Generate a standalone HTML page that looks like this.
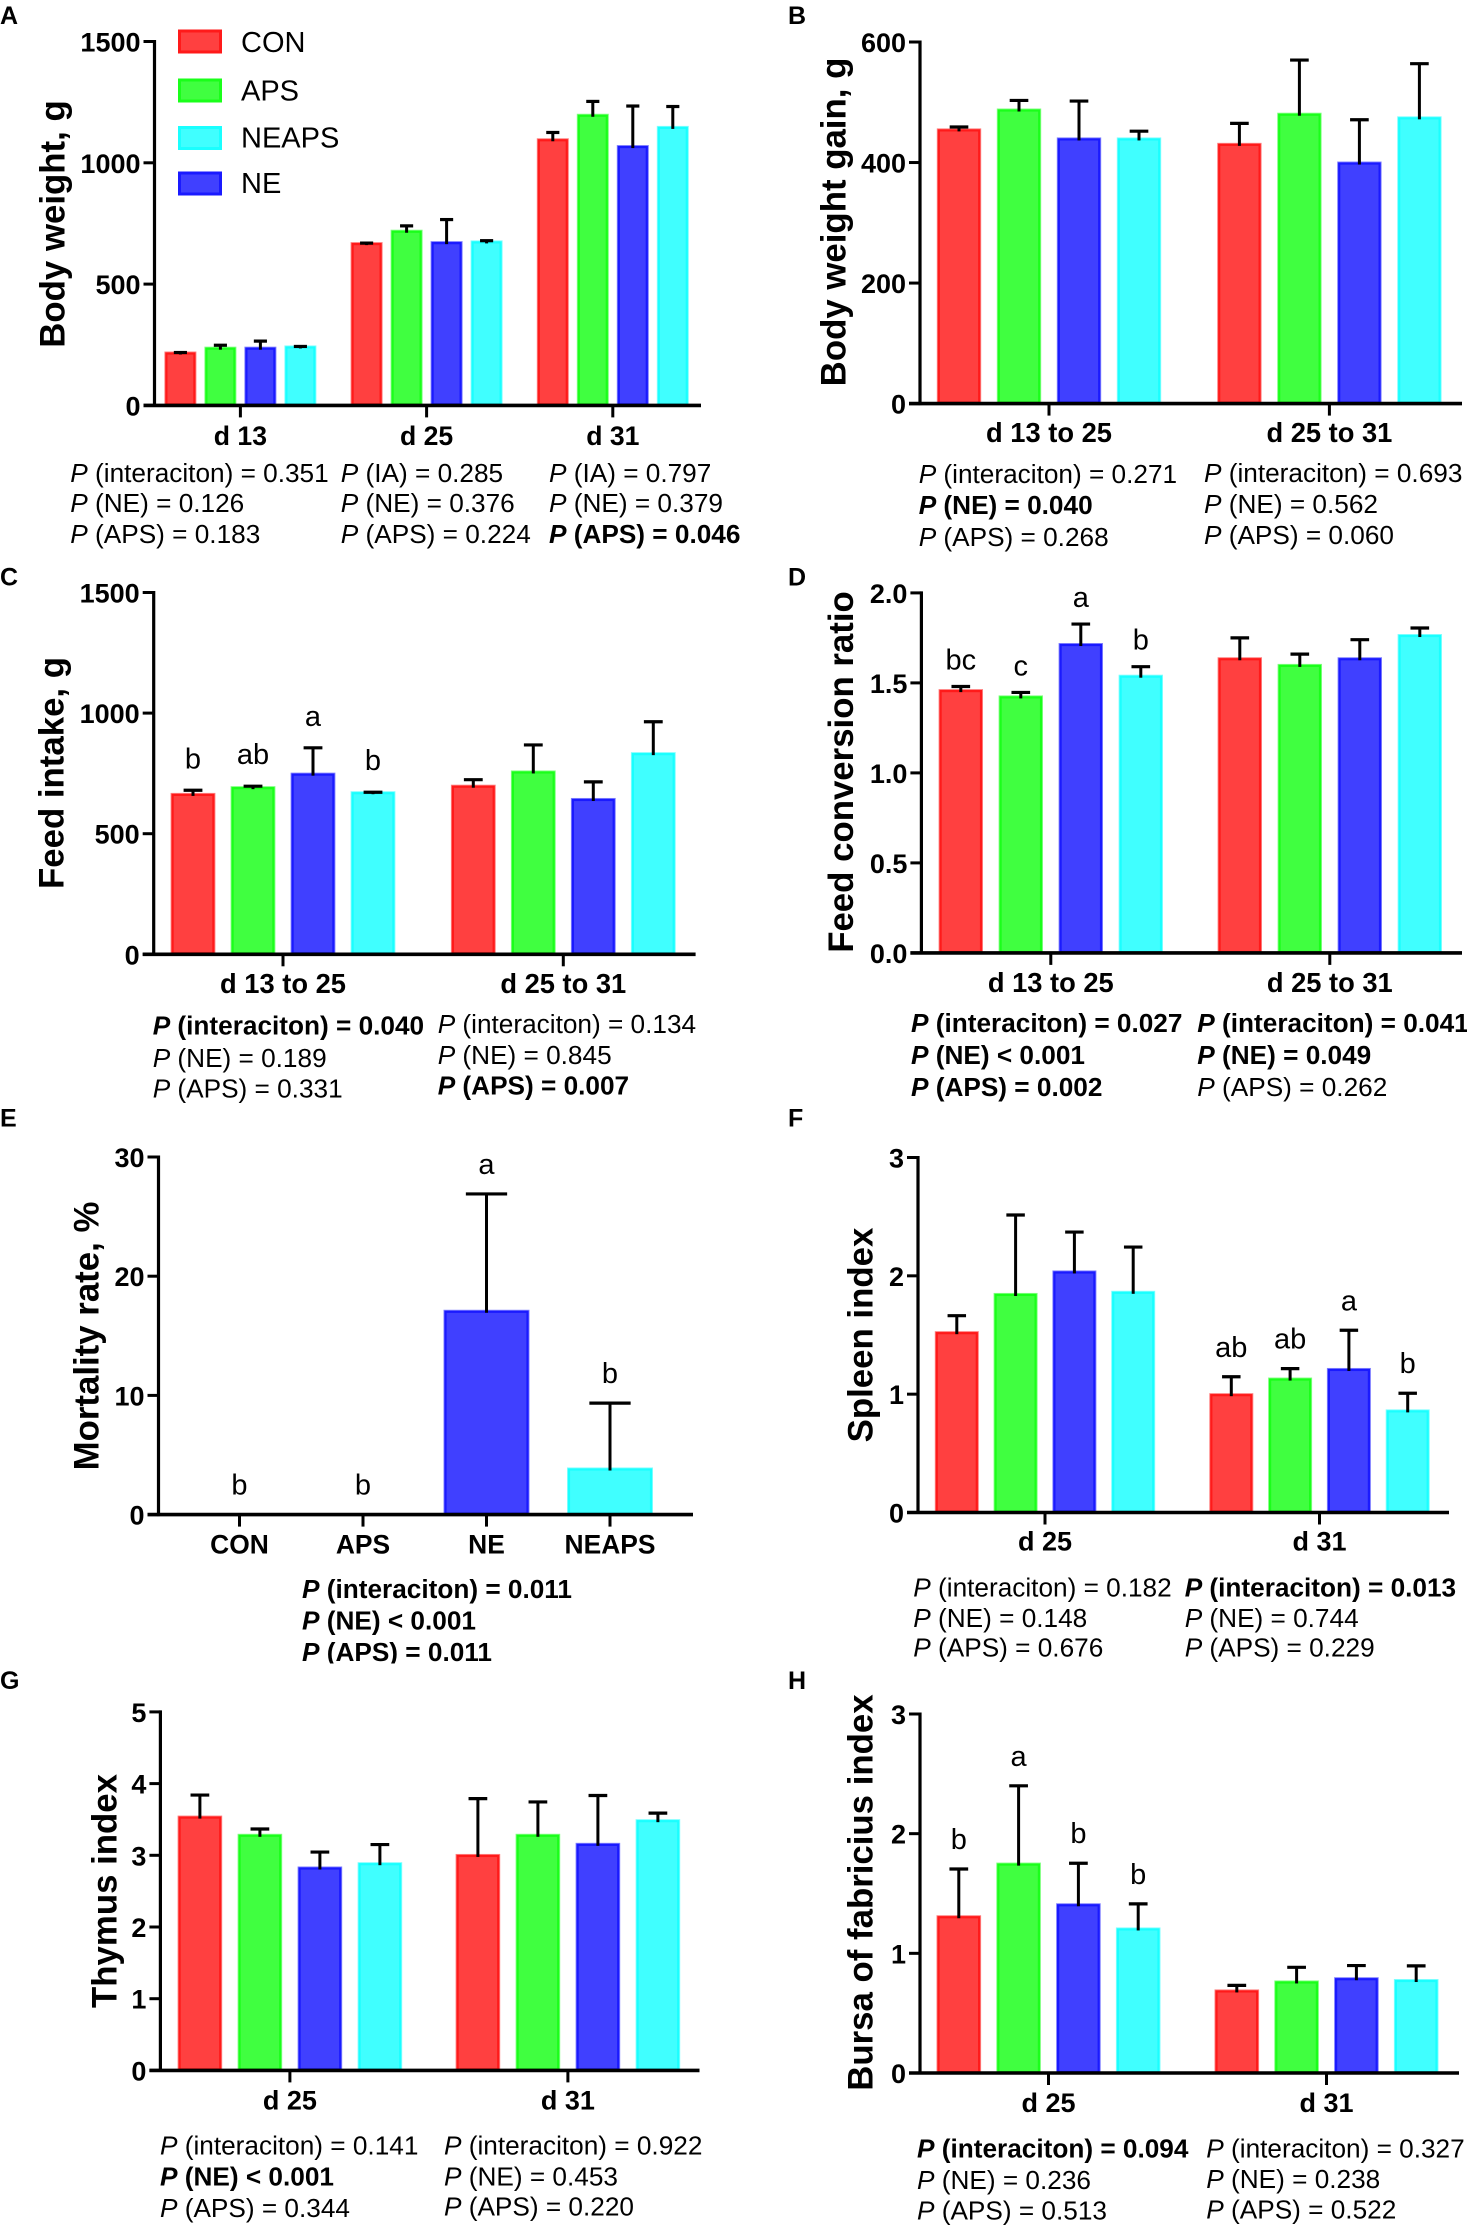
<!DOCTYPE html>
<html lang="en">
<head>
<meta charset="utf-8">
<title>Growth performance and immune organ index bar charts</title>
<style>
html,body{margin:0;padding:0;background:#fff;}
svg{display:block;}
text{font-family:"Liberation Sans",Arial,sans-serif;fill:#000;}
.pl{font-size:26.2px;}
.pb{font-size:26.2px;font-weight:bold;}
.i{font-style:italic;}
.yt{font-size:34.8px;font-weight:bold;text-anchor:middle;}
.lab{font-size:25px;font-weight:bold;}
.leg{font-size:29px;}
</style>
</head>
<body>
<svg id="figure" xmlns="http://www.w3.org/2000/svg" width="1467" height="2225" viewBox="0 0 1467 2225">
<rect width="1467" height="2225" fill="#fff"/>
<g id="charts"></g>

<text class="lab" x="0" y="24">A</text>
<text class="lab" x="788" y="24">B</text>
<text class="lab" x="0" y="585.5">C</text>
<text class="lab" x="788" y="585.5">D</text>
<text class="lab" x="0" y="1126.5">E</text>
<text class="lab" x="788" y="1126.5">F</text>
<text class="lab" x="0" y="1689">G</text>
<text class="lab" x="788" y="1689">H</text>

<text class="yt" transform="translate(64.5 224) rotate(-90)">Body weight, g</text>
<text class="yt" transform="translate(845.7 222) rotate(-90)">Body weight gain, g</text>
<text class="yt" transform="translate(63.5 773) rotate(-90)">Feed intake, g</text>
<text class="yt" transform="translate(853 772) rotate(-90)">Feed conversion ratio</text>
<text class="yt" transform="translate(98.4 1336) rotate(-90)">Mortality rate, %</text>
<text class="yt" transform="translate(872.7 1335) rotate(-90)">Spleen index</text>
<text class="yt" transform="translate(116.3 1891) rotate(-90)">Thymus index</text>
<text class="yt" transform="translate(872.7 1892.6) rotate(-90)">Bursa of fabricius index</text>

<g>
<g>
<rect x="178" y="29.5" width="44" height="24" fill="#ff8080"/><rect x="179.5" y="31" width="41" height="21" fill="#ff4040" stroke="#ff1a1a" stroke-width="3"/>
<text class="leg" x="241" y="52">CON</text></g>
<g>
<rect x="178" y="78.5" width="44" height="24" fill="#80ff80"/><rect x="179.5" y="80" width="41" height="21" fill="#40ff40" stroke="#1aff1a" stroke-width="3"/>
<text class="leg" x="241" y="100.5">APS</text></g>
<g>
<rect x="178" y="126" width="44" height="24" fill="#80ffff"/><rect x="179.5" y="127.5" width="41" height="21" fill="#40ffff" stroke="#1affff" stroke-width="3"/>
<text class="leg" x="241" y="147.5">NEAPS</text></g>
<g>
<rect x="178" y="171.5" width="44" height="24" fill="#8080ff"/><rect x="179.5" y="173" width="41" height="21" fill="#4040ff" stroke="#1a1aff" stroke-width="3"/>
<text class="leg" x="241" y="193">NE</text></g>
</g>

<g>
<text class="pl" x="70.3" y="482"><tspan class="i">P</tspan> (interaciton) = 0.351</text>
<text class="pl" x="70.3" y="512"><tspan class="i">P</tspan> (NE) = 0.126</text>
<text class="pl" x="70.3" y="543"><tspan class="i">P</tspan> (APS) = 0.183</text>
<text class="pl" x="340.8" y="482"><tspan class="i">P</tspan> (IA) = 0.285</text>
<text class="pl" x="340.8" y="512"><tspan class="i">P</tspan> (NE) = 0.376</text>
<text class="pl" x="340.8" y="543"><tspan class="i">P</tspan> (APS) = 0.224</text>
<text class="pl" x="549" y="482"><tspan class="i">P</tspan> (IA) = 0.797</text>
<text class="pl" x="549" y="512"><tspan class="i">P</tspan> (NE) = 0.379</text>
<text class="pb" x="549" y="543"><tspan class="i">P</tspan> (APS) = 0.046</text>
</g>
<g>
<text class="pl" x="918.7" y="483"><tspan class="i">P</tspan> (interaciton) = 0.271</text>
<text class="pb" x="918.7" y="514"><tspan class="i">P</tspan> (NE) = 0.040</text>
<text class="pl" x="918.7" y="546"><tspan class="i">P</tspan> (APS) = 0.268</text>
<text class="pl" x="1204" y="482"><tspan class="i">P</tspan> (interaciton) = 0.693</text>
<text class="pl" x="1204" y="513"><tspan class="i">P</tspan> (NE) = 0.562</text>
<text class="pl" x="1204" y="544"><tspan class="i">P</tspan> (APS) = 0.060</text>
</g>
<g>
<text class="pb" x="152.7" y="1034.6"><tspan class="i">P</tspan> (interaciton) = 0.040</text>
<text class="pl" x="152.7" y="1066.8"><tspan class="i">P</tspan> (NE) = 0.189</text>
<text class="pl" x="152.7" y="1097.5"><tspan class="i">P</tspan> (APS) = 0.331</text>
<text class="pl" x="437.7" y="1033"><tspan class="i">P</tspan> (interaciton) = 0.134</text>
<text class="pl" x="437.7" y="1064"><tspan class="i">P</tspan> (NE) = 0.845</text>
<text class="pb" x="437.7" y="1094.6"><tspan class="i">P</tspan> (APS) = 0.007</text>
</g>
<g>
<text class="pb" x="911" y="1032"><tspan class="i">P</tspan> (interaciton) = 0.027</text>
<text class="pb" x="911" y="1064"><tspan class="i">P</tspan> (NE) &lt; 0.001</text>
<text class="pb" x="911" y="1096"><tspan class="i">P</tspan> (APS) = 0.002</text>
<text class="pb" x="1197.3" y="1032"><tspan class="i">P</tspan> (interaciton) = 0.041</text>
<text class="pb" x="1197.3" y="1064"><tspan class="i">P</tspan> (NE) = 0.049</text>
<text class="pl" x="1197.3" y="1096"><tspan class="i">P</tspan> (APS) = 0.262</text>
</g>
<g>
<text class="pb" x="302" y="1598"><tspan class="i">P</tspan> (interaciton) = 0.011</text>
<text class="pb" x="302" y="1629.6"><tspan class="i">P</tspan> (NE) &lt; 0.001</text>
<text class="pb" x="302" y="1661"><tspan class="i">P</tspan> (APS) = 0.011</text>
<rect x="295" y="1663.5" width="220" height="12" fill="#fff"/>
</g>
<g>
<text class="pl" x="913.3" y="1596.4"><tspan class="i">P</tspan> (interaciton) = 0.182</text>
<text class="pl" x="913.3" y="1626.8"><tspan class="i">P</tspan> (NE) = 0.148</text>
<text class="pl" x="913.3" y="1656.4"><tspan class="i">P</tspan> (APS) = 0.676</text>
<text class="pb" x="1184.7" y="1596.4"><tspan class="i">P</tspan> (interaciton) = 0.013</text>
<text class="pl" x="1184.7" y="1626.8"><tspan class="i">P</tspan> (NE) = 0.744</text>
<text class="pl" x="1184.7" y="1656.4"><tspan class="i">P</tspan> (APS) = 0.229</text>
</g>
<g>
<text class="pl" x="160" y="2154.4"><tspan class="i">P</tspan> (interaciton) = 0.141</text>
<text class="pb" x="160" y="2185.4"><tspan class="i">P</tspan> (NE) &lt; 0.001</text>
<text class="pl" x="160" y="2216.8"><tspan class="i">P</tspan> (APS) = 0.344</text>
<text class="pl" x="444" y="2154.4"><tspan class="i">P</tspan> (interaciton) = 0.922</text>
<text class="pl" x="444" y="2185.4"><tspan class="i">P</tspan> (NE) = 0.453</text>
<text class="pl" x="444" y="2215.5"><tspan class="i">P</tspan> (APS) = 0.220</text>
</g>
<g>
<text class="pb" x="917" y="2157.3"><tspan class="i">P</tspan> (interaciton) = 0.094</text>
<text class="pl" x="917" y="2189"><tspan class="i">P</tspan> (NE) = 0.236</text>
<text class="pl" x="917" y="2219.6"><tspan class="i">P</tspan> (APS) = 0.513</text>
<text class="pl" x="1206.3" y="2157.3"><tspan class="i">P</tspan> (interaciton) = 0.327</text>
<text class="pl" x="1206.3" y="2188"><tspan class="i">P</tspan> (NE) = 0.238</text>
<text class="pl" x="1206.3" y="2218.5"><tspan class="i">P</tspan> (APS) = 0.522</text>
</g>
</svg>

<script>
// Treatment order within every bar group
const seriesNames = ['CON', 'APS', 'NE', 'NEAPS'];

// Panel A: body weight, g
const aGroups = ['d 13', 'd 25', 'd 31'];
const aTicks = ['0', '500', '1000', '1500'];
const aMeans = [[218, 238, 238, 243], [669, 720, 673, 676], [1097, 1198, 1069, 1148]];
const aErrors = [[0, 10, 27, 0], [0, 20, 93, 3], [28, 55, 165, 84]];
const aLetters = [['', '', '', ''], ['', '', '', ''], ['', '', '', '']];

// Panel B: body weight gain, g
const bGroups = ['d 13 to 25', 'd 25 to 31'];
const bTicks = ['0', '200', '400', '600'];
const bMeans = [[455, 488, 440, 440], [431, 481, 400, 475]];
const bErrors = [[4, 15, 62, 12], [34, 89, 71, 89]];
const bLetters = [['', '', '', ''], ['', '', '', '']];

// Panel C: feed intake, g
const cGroups = ['d 13 to 25', 'd 25 to 31'];
const cTicks = ['0', '500', '1000', '1500'];
const cMeans = [[665, 693, 749, 672], [699, 758, 644, 834]];
const cErrors = [[15, 4, 107, 0], [25, 110, 71, 130]];
const cLetters = [['b', 'ab', 'a', 'b'], ['', '', '', '']];

// Panel D: feed conversion ratio
const dGroups = ['d 13 to 25', 'd 25 to 31'];
const dTicks = ['0.0', '0.5', '1.0', '1.5', '2.0'];
const dMeans = [[1.46, 1.425, 1.716, 1.54], [1.637, 1.6, 1.637, 1.766]];
const dErrors = [[0.02, 0.022, 0.111, 0.05], [0.113, 0.06, 0.103, 0.039]];
const dLetters = [['bc', 'c', 'a', 'b'], ['', '', '', '']];

// Panel E: mortality rate, % (one bar per treatment)
const eGroups = ['CON', 'APS', 'NE', 'NEAPS'];
const eTicks = ['0', '10', '20', '30'];
const eMeans = [0, 0, 17.1, 3.87];
const eErrors = [0, 0, 9.8, 5.48];
const eLetters = ['b', 'b', 'a', 'b'];

// Panel F: spleen index
const fGroups = ['d 25', 'd 31'];
const fTicks = ['0', '1', '2', '3'];
const fMeans = [[1.524, 1.847, 2.037, 1.865], [1.0, 1.132, 1.213, 0.863]];
const fErrors = [[0.139, 0.667, 0.333, 0.378], [0.147, 0.084, 0.327, 0.145]];
const fLetters = [['', '', '', ''], ['ab', 'ab', 'a', 'b']];

// Panel G: thymus index
const gGroups = ['d 25', 'd 31'];
const gTicks = ['0', '1', '2', '3', '4', '5'];
const gMeans = [[3.54, 3.286, 2.83, 2.89], [3.005, 3.286, 3.16, 3.49]];
const gErrors = [[0.3, 0.081, 0.215, 0.26], [0.785, 0.458, 0.674, 0.098]];
const gLetters = [['', '', '', ''], ['', '', '', '']];

// Panel H: bursa of fabricius index
const hGroups = ['d 25', 'd 31'];
const hTicks = ['0', '1', '2', '3'];
const hMeans = [[1.31, 1.75, 1.41, 1.208], [0.69, 0.765, 0.792, 0.777]];
const hErrors = [[0.395, 0.65, 0.343, 0.205], [0.042, 0.118, 0.106, 0.118]];
const hLetters = [['b', 'a', 'b', 'b'], ['', '', '', '']];

const SVGNS = 'http://www.w3.org/2000/svg';
const root = document.getElementById('charts');
const palette = {
  CON:   { glow: '#ff8080', edge: '#ff1a1a', fill: '#ff4040' },
  APS:   { glow: '#80ff80', edge: '#1aff1a', fill: '#40ff40' },
  NE:    { glow: '#8080ff', edge: '#1a1aff', fill: '#4040ff' },
  NEAPS: { glow: '#80ffff', edge: '#1affff', fill: '#40ffff' }
};

function make(parent, tag, props, text) {
  const el = document.createElementNS(SVGNS, tag);
  for (const k in props) el.setAttribute(k, props[k]);
  if (text !== undefined) el.textContent = text;
  parent.appendChild(el);
  return el;
}

function drawPanel(o) {
  const panel = make(root, 'g', {});
  
  

  const top = Number(o.ticks[o.ticks.length - 1]);
  const yScale = v => o.yZero - (v / top) * (o.yZero - o.yTop);
  const groupX = g => o.firstTick + g * o.groupGap;
  const barX = (g, s) => groupX(g) + (s - (o.perGroup - 1) / 2) * o.barStep;

  // bars, whiskers, letters
  o.groups.forEach((groupName, g) => {
    const means = o.perGroup === 1 ? [o.means[g]] : o.means[g];
    const errs = o.perGroup === 1 ? [o.errors[g]] : o.errors[g];
    const lets = o.perGroup === 1 ? [o.letters[g]] : o.letters[g];
    means.forEach((m, s) => {
      const name = o.perGroup === 1 ? seriesNames[g] : seriesNames[s];
      const c = palette[name];
      const cx = barX(g, s);
      const yT = yScale(m) - 1;
      const w = o.barW;
      if (m > 0) {
        const barOuter = make(panel, 'rect', { x: cx - w / 2, y: yT, width: w, height: o.yZero - yT, fill: c.glow });
        
        
        const bar = make(panel, 'rect', { x: cx - w / 2 + 2, y: yT + 2, width: w - 4, height: Math.max(0, o.yZero - yT - 3), fill: c.fill, stroke: c.edge, 'stroke-width': 2.2 });
        
        
        const yE = yScale(m + errs[s]);
        const capW = w * o.capRatio;
        const stem = make(panel, 'line', { x1: cx, x2: cx, y1: yT + 3, y2: yE, stroke: '#000', 'stroke-width': 3 });
        
        
        const cap = make(panel, 'line', { x1: cx - capW / 2, x2: cx + capW / 2, y1: yE, y2: yE, stroke: '#000', 'stroke-width': 3.2 });
        
        
      }
      if (lets[s]) {
        const base = yScale(m + errs[s]) - o.letterGap;
        const letter = make(panel, 'text', { x: cx, y: base, 'text-anchor': 'middle', 'font-size': 29 }, lets[s]);
        
        
      }
    });
    // group tick and label
    const tick = make(panel, 'line', { x1: groupX(g), x2: groupX(g), y1: o.yZero, y2: o.yZero + 12, stroke: '#000', 'stroke-width': 3 });
    
    
    const lab = make(panel, 'text', { x: groupX(g), y: o.xLabelY, 'text-anchor': 'middle', 'font-size': o.xFont, 'font-weight': 'bold' }, groupName);
    
    
  });

  // y ticks
  o.ticks.forEach(t => {
    const y = yScale(Number(t));
    const tk = make(panel, 'line', { x1: o.axisX - 11, x2: o.axisX, y1: y, y2: y, stroke: '#000', 'stroke-width': 3 });
    
    
    const lb = make(panel, 'text', { x: o.axisX - 14, y: y + 10, 'text-anchor': 'end', 'font-size': 27, 'font-weight': 'bold' }, t);
    
    
  });

  // axes
  const yAxis = make(panel, 'line', { x1: o.axisX, x2: o.axisX, y1: o.yTop - 1.5, y2: o.yZero + 1.5, stroke: '#000', 'stroke-width': 3.2 });
  
  
  const xAxis = make(panel, 'line', { x1: o.axisX - 11, x2: o.xEnd, y1: o.yZero, y2: o.yZero, stroke: '#000', 'stroke-width': 3.6 });
  
  
}

drawPanel({ id: 'a', groups: aGroups, ticks: aTicks, means: aMeans, errors: aErrors, letters: aLetters, perGroup: 4,
  axisX: 154.5, yTop: 41.5, yZero: 405.4, xEnd: 701, firstTick: 240.4, groupGap: 186.2, barStep: 40, barW: 32, capRatio: 0.41, letterGap: 20, xLabelY: 445, xFont: 26.6 });
drawPanel({ id: 'b', groups: bGroups, ticks: bTicks, means: bMeans, errors: bErrors, letters: bLetters, perGroup: 4,
  axisX: 920, yTop: 42, yZero: 403.6, xEnd: 1462, firstTick: 1049, groupGap: 280.4, barStep: 60, barW: 44.4, capRatio: 0.42, letterGap: 20, xLabelY: 442, xFont: 27.3 });
drawPanel({ id: 'c', groups: cGroups, ticks: cTicks, means: cMeans, errors: cErrors, letters: cLetters, perGroup: 4,
  axisX: 153.7, yTop: 592.5, yZero: 954.3, xEnd: 695.6, firstTick: 283, groupGap: 280.3, barStep: 60, barW: 44.8, capRatio: 0.42, letterGap: 22, xLabelY: 993, xFont: 27.3 });
drawPanel({ id: 'd', groups: dGroups, ticks: dTicks, means: dMeans, errors: dErrors, letters: dLetters, perGroup: 4,
  axisX: 921.4, yTop: 592.9, yZero: 952.9, xEnd: 1462, firstTick: 1050.8, groupGap: 279, barStep: 60, barW: 44.4, capRatio: 0.42, letterGap: 17, xLabelY: 991.8, xFont: 27.3 });
drawPanel({ id: 'e', groups: eGroups, ticks: eTicks, means: eMeans, errors: eErrors, letters: eLetters, perGroup: 1,
  axisX: 158.5, yTop: 1157, yZero: 1514.6, xEnd: 693, firstTick: 239.5, groupGap: 123.5, barStep: 0, barW: 86, capRatio: 0.48, letterGap: 20, xLabelY: 1553.6, xFont: 26.4 });
drawPanel({ id: 'f', groups: fGroups, ticks: fTicks, means: fMeans, errors: fErrors, letters: fLetters, perGroup: 4,
  axisX: 918, yTop: 1157.5, yZero: 1512.5, xEnd: 1449, firstTick: 1045, groupGap: 274.5, barStep: 58.8, barW: 44, capRatio: 0.42, letterGap: 20, xLabelY: 1550.7, xFont: 27 });
drawPanel({ id: 'g', groups: gGroups, ticks: gTicks, means: gMeans, errors: gErrors, letters: gLetters, perGroup: 4,
  axisX: 160.4, yTop: 1711.9, yZero: 2070.4, xEnd: 699.5, firstTick: 289.9, groupGap: 278, barStep: 60, barW: 44.6, capRatio: 0.42, letterGap: 20, xLabelY: 2109.7, xFont: 27 });
drawPanel({ id: 'h', groups: hGroups, ticks: hTicks, means: hMeans, errors: hErrors, letters: hLetters, perGroup: 4,
  axisX: 920, yTop: 1714, yZero: 2073, xEnd: 1459, firstTick: 1048.5, groupGap: 278, barStep: 59.8, barW: 44.6, capRatio: 0.42, letterGap: 20, xLabelY: 2112, xFont: 27 });
</script>
</body>
</html>
